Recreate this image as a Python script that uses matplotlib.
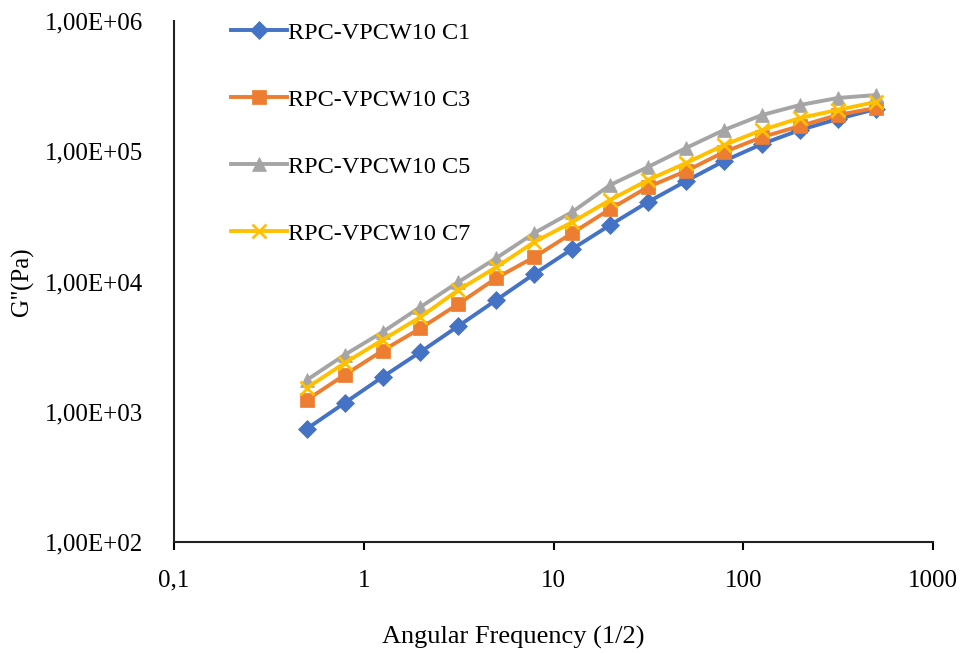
import numpy as np
import matplotlib
matplotlib.use('Agg')
import matplotlib.pyplot as plt
from matplotlib.ticker import FixedLocator, FixedFormatter, NullLocator

plt.rcParams['font.family'] = ['Liberation Serif', 'DejaVu Serif']
plt.rcParams['font.size'] = 18

# angular frequency (rad/s)
freq = [0.5, 0.792, 1.256, 1.99, 3.15, 5.0, 7.92, 12.56, 19.9, 31.5,
        50.0, 79.2, 125.6, 199.0, 315.0, 500.0]

# G'' (Pa) per sample
g_c1 = [738, 1167, 1849, 2877, 4550, 7210, 11430, 17780, 27160, 40800,
        59100, 84200, 113700, 145600, 177000, 211000]
g_c3 = [1230, 1915, 2945, 4370, 6720, 10640, 15400, 23550, 36000, 53200,
        70500, 98600, 128500, 156300, 189800, 215000]
g_c5 = [1750, 2730, 4090, 6370, 9900, 15150, 23560, 34200, 55100, 75700,
        106000, 145600, 189800, 226500, 256500, 270000]
g_c7 = [1520, 2365, 3560, 5340, 8600, 12900, 20100, 28600, 42300, 60100,
        81300, 111700, 145600, 180000, 207500, 239000]

labels = ['RPC-VPCW10 C1', 'RPC-VPCW10 C3', 'RPC-VPCW10 C5', 'RPC-VPCW10 C7']
series = [g_c1, g_c3, g_c5, g_c7]
colors = ['#4472C4', '#ED7D31', '#A5A5A5', '#FFC000']
markers = ['D', 's', '^', 'x']
msizes = [9, 10, 10, 10]

x_ticks = [0.1, 1, 10, 100, 1000]
x_ticklabels = ['0,1', '1', '10', '100', '1000']
y_ticks = [1e2, 1e3, 1e4, 1e5, 1e6]
y_ticklabels = ['1,00E+02', '1,00E+03', '1,00E+04', '1,00E+05', '1,00E+06']

fig = plt.figure(figsize=(9.6, 6.53), dpi=100)
ax = fig.add_axes([174 / 960, 111 / 653, 759 / 960, 521 / 653])

for vals, lab, c, m, ms in zip(series, labels, colors, markers, msizes):
    ax.plot(freq, vals, color=c, marker=m, markersize=ms, linewidth=2.8,
            markeredgewidth=2 if m == 'x' else 0.5, markeredgecolor=c,
            label=lab)

ax.set_xscale('log')
ax.set_yscale('log')
ax.set_xlim(0.1, 1000)
ax.set_ylim(1e2, 1e6)

ax.xaxis.set_major_locator(FixedLocator(x_ticks))
ax.xaxis.set_major_formatter(FixedFormatter(x_ticklabels))
ax.xaxis.set_minor_locator(NullLocator())
ax.yaxis.set_major_locator(FixedLocator(y_ticks))
ax.yaxis.set_major_formatter(FixedFormatter(y_ticklabels))
ax.yaxis.set_minor_locator(NullLocator())

ax.tick_params(axis='x', direction='out', length=6, width=1.5, pad=14,
               labelsize=18)
ax.tick_params(axis='y', length=0, pad=22, labelsize=18)

for s in ['top', 'right']:
    ax.spines[s].set_visible(False)
for s in ['left', 'bottom']:
    ax.spines[s].set_linewidth(1.5)
    ax.spines[s].set_color('#222222')

ax.set_xlabel('Angular Frequency (1/2)', fontsize=19)
# label sits a bit left of the axis centre in the original
ax.xaxis.set_label_coords((513 - 174) / 759, (542 - 626) / 521)
ax.set_ylabel("G''(Pa)", fontsize=18, labelpad=8)

leg = ax.legend(loc='upper left', bbox_to_anchor=(221 / 960, 1 - 12 / 653),
                bbox_transform=fig.transFigure, frameon=False, fontsize=17.5,
                handlelength=2.3, handletextpad=0.05, labelspacing=1.85,
                borderaxespad=0)

fig.savefig('out.png', dpi=100)
